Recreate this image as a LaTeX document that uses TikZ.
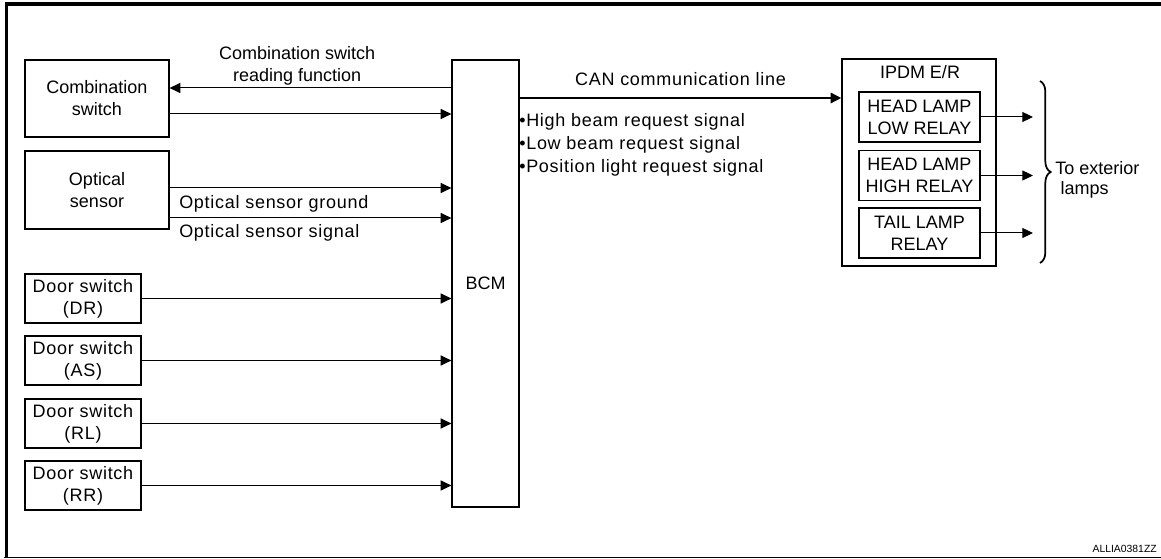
\documentclass[tikz,border=0pt]{standalone}
\usepackage{fontspec}
\setmainfont{Liberation Sans}
\newfontfamily\spaced[LetterSpace=4]{Liberation Sans}
\usetikzlibrary{arrows.meta, calc, positioning, decorations.pathreplacing}

\begin{document}
\begin{tikzpicture}[x=0.75pt,y=-0.75pt,>={Triangle[length=8pt,width=7.5pt]},
  box/.style={draw, line width=0.9pt, inner sep=0pt, align=center, font=\fontsize{13.5}{16.5}\selectfont},
  sig/.style={->, line width=0.75pt},
  lbl/.style={inner sep=0pt, font=\fontsize{13.5}{16.5}\selectfont},
  slbl/.style={inner sep=0pt, font=\spaced\fontsize{13.5}{16.5}\selectfont}]
\useasboundingbox (0,0) rectangle (1161,559);
% frame
\draw[line width=2.4pt] (5,4) -- (1161,4);
\draw[line width=2.4pt] (6.5,3) -- (6.5,557);
\draw[line width=1.2pt] (4,557.5) -- (1161,557.5);

% inputs
\node[box, minimum width=108pt, minimum height=57.75pt] at (97,98.5) (comb) {Combination\\switch};
\node[box, minimum width=108pt, minimum height=58.5pt] at (97,190) (optic) {Optical\\sensor};
\node[box, minimum width=87pt, minimum height=36.75pt, font=\spaced\fontsize{13.5}{16.5}\selectfont] at (83,298.5) (dr) {Door switch\\(DR)};
\node[box, minimum width=87pt, minimum height=36.75pt, font=\spaced\fontsize{13.5}{16.5}\selectfont] at (83,360.5) (as) {Door switch\\(AS)};
\node[box, minimum width=87pt, minimum height=36.75pt, font=\spaced\fontsize{13.5}{16.5}\selectfont] at (83,423.5) (rl) {Door switch\\(RL)};
\node[box, minimum width=87pt, minimum height=36.75pt, font=\spaced\fontsize{13.5}{16.5}\selectfont] at (83,485.5) (rr) {Door switch\\(RR)};

\node[box, minimum width=50.25pt, minimum height=335.25pt] at (485.5,283.5) (bcm) {BCM};

% IPDM E/R
\node[box, minimum width=115.5pt, minimum height=155.25pt] at (919,162.5) (ipdm) {};
\node[lbl] at (920,72) (ipdmlbl) {IPDM E/R};
\node[box, minimum width=90.75pt, minimum height=37.5pt] at (919.5,117) (hlo) {HEAD LAMP\\LOW RELAY};
\node[box, minimum width=90.75pt, minimum height=37.5pt] at (919.5,175.5) (hhi) {HEAD LAMP\\HIGH RELAY};
\node[box, minimum width=90.75pt, minimum height=37.5pt] at (919.5,233) (tail) {TAIL LAMP\\RELAY};

\draw [sig] (bcm.west |- 0,88) to node[lbl, above, xshift=-10, yshift=2pt, align=center] {Combination switch\\reading function} (comb.east |- 0,88);
\draw [sig] (comb.east |- 0,114) to (bcm.west |- 0,114);
\draw [sig] (optic.east |- 0,188) to (bcm.west |- 0,188);
\draw [sig] (optic.east |- 0,218) to (bcm.west |- 0,218);
\node[slbl, anchor=base west] at (179,209) (gnd) {Optical sensor ground};
\node[slbl, anchor=base west] at (179,238) (sgl) {Optical sensor signal};

\foreach \n in {dr,as,rl,rr}
  \draw [sig] (\n.east) to (\n.east -| bcm.west);

% CAN line
\draw [->, line width=2.2pt] (bcm.east |- 0,98) to node[slbl, above, yshift=8pt] {CAN communication line} (ipdm.west |- 0,98);
\node[slbl, anchor=north west, align=left, font=\spaced\fontsize{13.5}{17.25}\selectfont] at (519,113) (req) {•High beam request signal\\•Low beam request signal\\•Position light request signal};

% outputs
\coordinate (lampsx) at (1033,0);
\foreach \n in {hlo,hhi,tail}
  \draw [sig] (\n.east) to (\n.east -| lampsx);
\draw [decorate, decoration={brace, amplitude=8pt}, line width=1.3pt] (1040,81) -- (1040,263);
\node[lbl, anchor=west, align=left, font=\fontsize{13.5}{15}\selectfont] at (1055,180) (ext) {To exterior\\\hspace{4pt}lamps};

\node[inner sep=0pt, font=\fontsize{7.8}{9}\selectfont, anchor=base east] at (1157,552) (code) {ALLIA0381ZZ};
\end{tikzpicture}
\end{document}
